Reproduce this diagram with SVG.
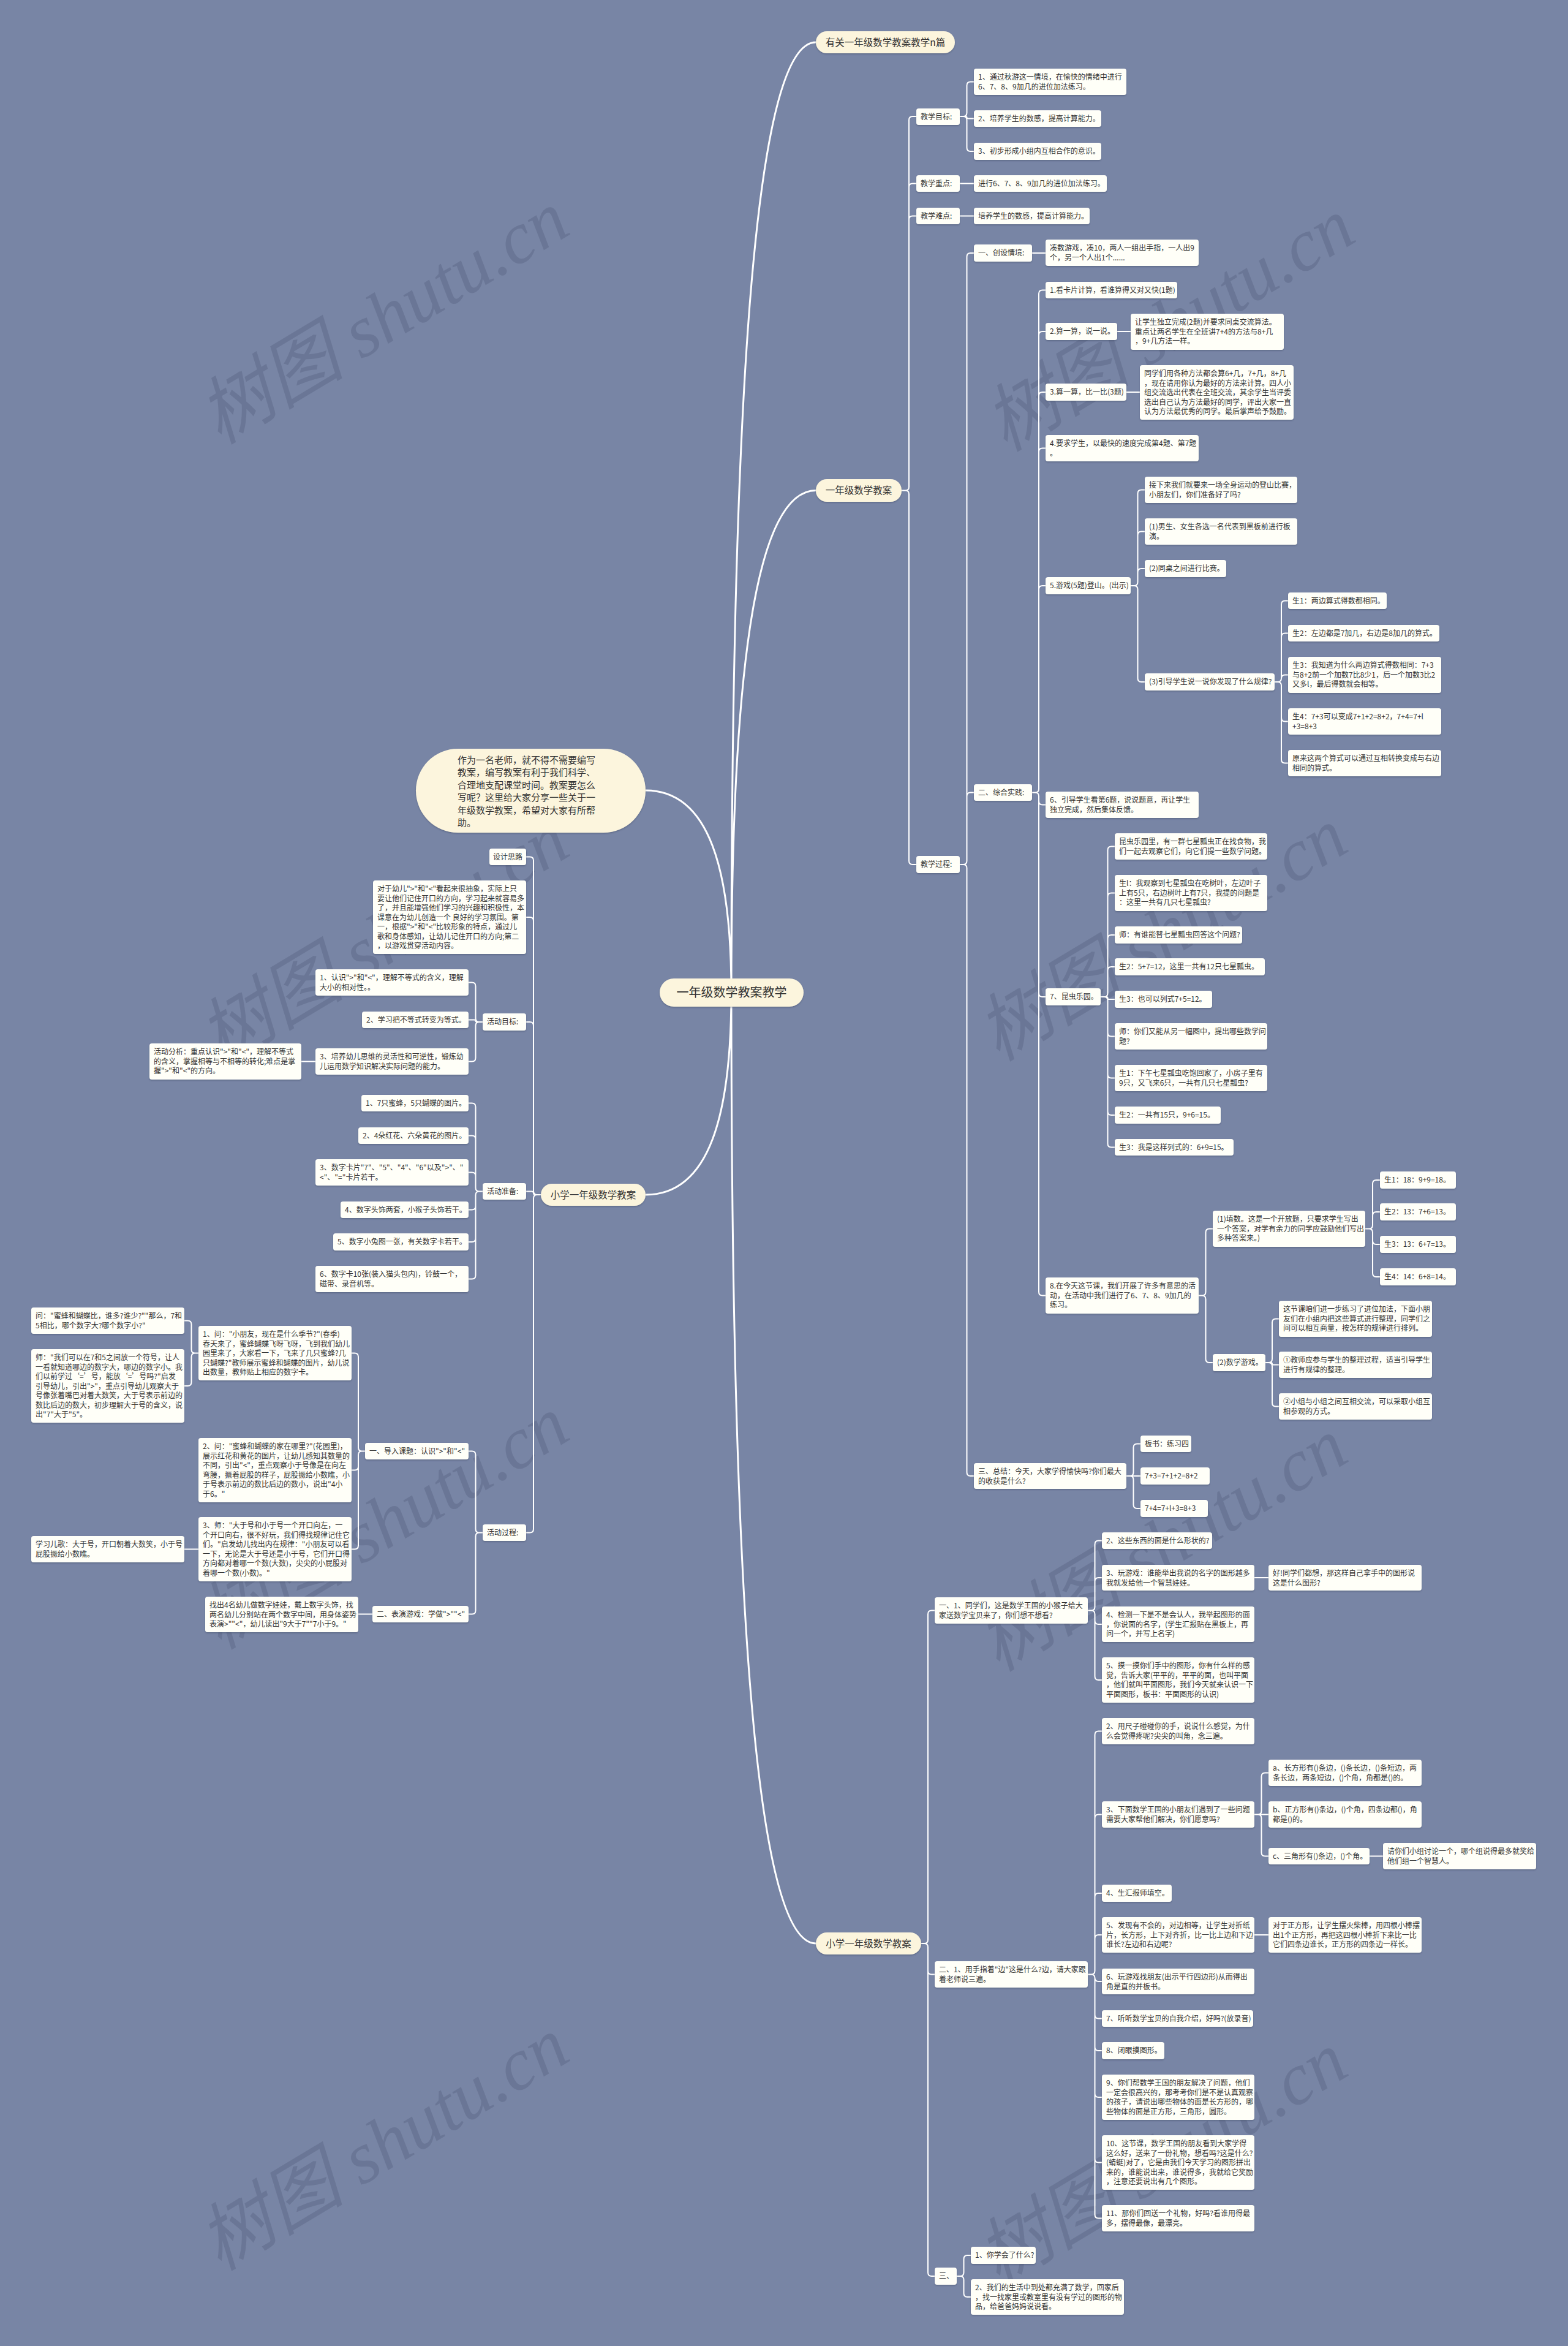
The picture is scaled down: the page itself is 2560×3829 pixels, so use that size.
<svg xmlns="http://www.w3.org/2000/svg" width="2560" height="3829" viewBox="0 0 2560 3829">
<defs>
<filter id="sh" x="-5%" y="-10%" width="110%" height="130%"><feDropShadow dx="0" dy="1.5" stdDeviation="0.8" flood-color="#3d4763" flood-opacity="0.45"/></filter>
<style>
.b{fill:#fffff8;filter:url(#sh)}
.p{fill:#fcf5dd;filter:url(#sh)}
text{font-family:"Noto Sans CJK SC","Liberation Sans",sans-serif;font-size:12px;fill:#333}
.lt{font-size:15.5px}
.rt{font-size:20px}
.it{font-size:15px}
.c{fill:none;stroke:#fff;stroke-width:2}
.cr{fill:none;stroke:#fff;stroke-width:3}
.wm{font-family:"Liberation Serif","Noto Sans CJK SC",serif;font-size:120px;font-style:italic;fill:#4d5773;fill-opacity:.3}
</style>
</defs>
<rect x="0" y="0" width="2560" height="3829" fill="#7885a5"/>
<g id="watermarks">
<text class="wm" text-anchor="middle" transform="translate(647 553) rotate(-31)">树图 shutu.cn</text>
<text class="wm" text-anchor="middle" transform="translate(1930 565) rotate(-31)">树图 shutu.cn</text>
<text class="wm" text-anchor="middle" transform="translate(647 1567) rotate(-31)">树图 shutu.cn</text>
<text class="wm" text-anchor="middle" transform="translate(1918 1560) rotate(-31)">树图 shutu.cn</text>
<text class="wm" text-anchor="middle" transform="translate(647 2520) rotate(-31)">树图 shutu.cn</text>
<text class="wm" text-anchor="middle" transform="translate(1918 2556) rotate(-31)">树图 shutu.cn</text>
<text class="wm" text-anchor="middle" transform="translate(647 3534) rotate(-31)">树图 shutu.cn</text>
<text class="wm" text-anchor="middle" transform="translate(1918 3558) rotate(-31)">树图 shutu.cn</text>
</g>
<g id="connectors">
<path class="cr" d="M1194 1620C1194 689 1228.5 69 1332 69M1194 1620C1194 1128 1228.5 800.5 1332 800.5M1194 1620C1194 2551 1228.5 3172 1332 3172M1194 1620C1194 1422 1159 1290 1054 1290M1194 1620C1194 1818 1159 1950 1054 1950"/>
<path class="c" d="M1472 800.5H1478Q1484 800.5 1484 794.5V196Q1484 190 1490 190H1496M1472 800.5H1478Q1484 800.5 1484 794.5V305.5Q1484 299.5 1490 299.5H1496M1472 800.5H1478Q1484 800.5 1484 794.5V358.5Q1484 352.5 1490 352.5H1496M1472 800.5H1478Q1484 800.5 1484 806.5V1405Q1484 1411 1490 1411H1496"/>
<path class="c" d="M1567 190H1572.5Q1578.5 190 1578.5 184V139.5Q1578.5 133.5 1584.5 133.5H1590M1567 190H1576Q1578.5 190 1578.5 191.75Q1578.5 193.5 1581 193.5H1590M1567 190H1572.5Q1578.5 190 1578.5 196V241Q1578.5 247 1584.5 247H1590M1567 299.5H1590M1567 352.5H1590"/>
<path class="c" d="M1567 1411H1572.5Q1578.5 1411 1578.5 1405V419Q1578.5 413 1584.5 413H1590M1567 1411H1572.5Q1578.5 1411 1578.5 1405V1299.5Q1578.5 1293.5 1584.5 1293.5H1590M1567 1411H1572.5Q1578.5 1411 1578.5 1417V2403Q1578.5 2409 1584.5 2409H1590M1685 413H1707"/>
<path class="c" d="M1685 1293.5H1690Q1696 1293.5 1696 1287.5V479.5Q1696 473.5 1702 473.5H1707M1685 1293.5H1690Q1696 1293.5 1696 1287.5V547Q1696 541 1702 541H1707M1685 1293.5H1690Q1696 1293.5 1696 1287.5V646Q1696 640 1702 640H1707M1685 1293.5H1690Q1696 1293.5 1696 1287.5V737.5Q1696 731.5 1702 731.5H1707M1685 1293.5H1690Q1696 1293.5 1696 1287.5V962Q1696 956 1702 956H1707M1685 1293.5H1690Q1696 1293.5 1696 1299.5V1307.5Q1696 1313.5 1702 1313.5H1707M1685 1293.5H1690Q1696 1293.5 1696 1299.5V1621Q1696 1627 1702 1627H1707M1685 1293.5H1690Q1696 1293.5 1696 1299.5V2108.5Q1696 2114.5 1702 2114.5H1707"/>
<path class="c" d="M1824 541H1846M1839 640H1861"/>
<path class="c" d="M1846 956H1851.5Q1857.5 956 1857.5 950V805.5Q1857.5 799.5 1863.5 799.5H1869M1846 956H1851.5Q1857.5 956 1857.5 950V873.5Q1857.5 867.5 1863.5 867.5H1869M1846 956H1851.5Q1857.5 956 1857.5 950V934Q1857.5 928 1863.5 928H1869M1846 956H1851.5Q1857.5 956 1857.5 962V1107Q1857.5 1113 1863.5 1113H1869"/>
<path class="c" d="M2081 1113H2086Q2092 1113 2092 1107V986.5Q2092 980.5 2098 980.5H2103M2081 1113H2086Q2092 1113 2092 1107V1039.5Q2092 1033.5 2098 1033.5H2103M2081 1113H2086Q2092 1113 2092 1107.25Q2092 1101.5 2098 1101.5H2103M2081 1113H2086Q2092 1113 2092 1119V1171.5Q2092 1177.5 2098 1177.5H2103M2081 1113H2086Q2092 1113 2092 1119V1239.5Q2092 1245.5 2098 1245.5H2103"/>
<path class="c" d="M1797 1627H1802.5Q1808.5 1627 1808.5 1621V1387.5Q1808.5 1381.5 1814.5 1381.5H1820M1797 1627H1802.5Q1808.5 1627 1808.5 1621V1463.5Q1808.5 1457.5 1814.5 1457.5H1820M1797 1627H1802.5Q1808.5 1627 1808.5 1621V1532Q1808.5 1526 1814.5 1526H1820M1797 1627H1802.5Q1808.5 1627 1808.5 1621V1584Q1808.5 1578 1814.5 1578H1820M1797 1627H1806.5Q1808.5 1627 1808.5 1629Q1808.5 1631 1810.5 1631H1820M1797 1627H1802.5Q1808.5 1627 1808.5 1633V1685.5Q1808.5 1691.5 1814.5 1691.5H1820M1797 1627H1802.5Q1808.5 1627 1808.5 1633V1753.5Q1808.5 1759.5 1814.5 1759.5H1820M1797 1627H1802.5Q1808.5 1627 1808.5 1633V1814Q1808.5 1820 1814.5 1820H1820M1797 1627H1802.5Q1808.5 1627 1808.5 1633V1866.5Q1808.5 1872.5 1814.5 1872.5H1820"/>
<path class="c" d="M1957 2114.5H1962.5Q1968.5 2114.5 1968.5 2108.5V2011.5Q1968.5 2005.5 1974.5 2005.5H1980M1957 2114.5H1962.5Q1968.5 2114.5 1968.5 2120.5V2218Q1968.5 2224 1974.5 2224H1980"/>
<path class="c" d="M2229 2005.5H2235Q2241 2005.5 2241 1999.5V1932Q2241 1926 2247 1926H2253M2229 2005.5H2235Q2241 2005.5 2241 1999.5V1984Q2241 1978 2247 1978H2253M2229 2005.5H2235Q2241 2005.5 2241 2011.5V2025Q2241 2031 2247 2031H2253M2229 2005.5H2235Q2241 2005.5 2241 2011.5V2078Q2241 2084 2247 2084H2253"/>
<path class="c" d="M2066 2224H2071Q2077 2224 2077 2218V2158.5Q2077 2152.5 2083 2152.5H2088M2066 2224H2075Q2077 2224 2077 2225.75Q2077 2227.5 2079 2227.5H2088M2066 2224H2071Q2077 2224 2077 2230V2289.5Q2077 2295.5 2083 2295.5H2088"/>
<path class="c" d="M1839 2409H1844.5Q1850.5 2409 1850.5 2403V2362.5Q1850.5 2356.5 1856.5 2356.5H1862M1839 2409H1862M1839 2409H1844.5Q1850.5 2409 1850.5 2415V2456Q1850.5 2462 1856.5 2462H1862"/>
<path class="c" d="M1504 3172H1509Q1515 3172 1515 3166V2634.5Q1515 2628.5 1521 2628.5H1526M1504 3172H1509Q1515 3172 1515 3178V3216.5Q1515 3222.5 1521 3222.5H1526M1504 3172H1509Q1515 3172 1515 3178V3709Q1515 3715 1521 3715H1526"/>
<path class="c" d="M1776 2628.5H1781.5Q1787.5 2628.5 1787.5 2622.5V2520.5Q1787.5 2514.5 1793.5 2514.5H1799M1776 2628.5H1781.5Q1787.5 2628.5 1787.5 2622.5V2581Q1787.5 2575 1793.5 2575H1799M1776 2628.5H1781.5Q1787.5 2628.5 1787.5 2634.5V2645Q1787.5 2651 1793.5 2651H1799M1776 2628.5H1781.5Q1787.5 2628.5 1787.5 2634.5V2736Q1787.5 2742 1793.5 2742H1799M2048 2575H2071"/>
<path class="c" d="M1776 3222.5H1781.5Q1787.5 3222.5 1787.5 3216.5V2831.5Q1787.5 2825.5 1793.5 2825.5H1799M1776 3222.5H1781.5Q1787.5 3222.5 1787.5 3216.5V2967.5Q1787.5 2961.5 1793.5 2961.5H1799M1776 3222.5H1781.5Q1787.5 3222.5 1787.5 3216.5V3096Q1787.5 3090 1793.5 3090H1799M1776 3222.5H1781.5Q1787.5 3222.5 1787.5 3216.5V3164Q1787.5 3158 1793.5 3158H1799M1776 3222.5H1781.5Q1787.5 3222.5 1787.5 3228.25Q1787.5 3234 1793.5 3234H1799M1776 3222.5H1781.5Q1787.5 3222.5 1787.5 3228.5V3288.5Q1787.5 3294.5 1793.5 3294.5H1799M1776 3222.5H1781.5Q1787.5 3222.5 1787.5 3228.5V3341Q1787.5 3347 1793.5 3347H1799M1776 3222.5H1781.5Q1787.5 3222.5 1787.5 3228.5V3417Q1787.5 3423 1793.5 3423H1799M1776 3222.5H1781.5Q1787.5 3222.5 1787.5 3228.5V3523.5Q1787.5 3529.5 1793.5 3529.5H1799M1776 3222.5H1781.5Q1787.5 3222.5 1787.5 3228.5V3614.5Q1787.5 3620.5 1793.5 3620.5H1799"/>
<path class="c" d="M2048 2961.5H2053.5Q2059.5 2961.5 2059.5 2955.5V2899.5Q2059.5 2893.5 2065.5 2893.5H2071M2048 2961.5H2071M2048 2961.5H2053.5Q2059.5 2961.5 2059.5 2967.5V3023.5Q2059.5 3029.5 2065.5 3029.5H2071M2236 3029.5H2258M2048 3158H2071"/>
<path class="c" d="M1562 3715H1567.5Q1573.5 3715 1573.5 3709V3687Q1573.5 3681 1579.5 3681H1585M1562 3715H1567.5Q1573.5 3715 1573.5 3721V3743Q1573.5 3749 1579.5 3749H1585"/>
<path class="c" d="M883 1950H877Q871 1950 871 1944V1404.5Q871 1398.5 865 1398.5H859M883 1950H877Q871 1950 871 1944V1503Q871 1497 865 1497H859M883 1950H877Q871 1950 871 1944V1674Q871 1668 865 1668H859M883 1950H874Q871 1950 871 1947.25Q871 1944.5 868 1944.5H859M883 1950H877Q871 1950 871 1956V2495.5Q871 2501.5 865 2501.5H859"/>
<path class="c" d="M788 1668H782.5Q776.5 1668 776.5 1662V1609.5Q776.5 1603.5 770.5 1603.5H765M788 1668H779Q776.5 1668 776.5 1666.25Q776.5 1664.5 774 1664.5H765M788 1668H782.5Q776.5 1668 776.5 1674V1726.5Q776.5 1732.5 770.5 1732.5H765M515 1732.5H492"/>
<path class="c" d="M788 1944.5H782.5Q776.5 1944.5 776.5 1938.5V1806.5Q776.5 1800.5 770.5 1800.5H765M788 1944.5H782.5Q776.5 1944.5 776.5 1938.5V1859.5Q776.5 1853.5 770.5 1853.5H765M788 1944.5H782.5Q776.5 1944.5 776.5 1938.5V1919.5Q776.5 1913.5 770.5 1913.5H765M788 1944.5H782.5Q776.5 1944.5 776.5 1950.5V1968.5Q776.5 1974.5 770.5 1974.5H765M788 1944.5H782.5Q776.5 1944.5 776.5 1950.5V2021Q776.5 2027 770.5 2027H765M788 1944.5H782.5Q776.5 1944.5 776.5 1950.5V2081.5Q776.5 2087.5 770.5 2087.5H765"/>
<path class="c" d="M788 2501.5H782.5Q776.5 2501.5 776.5 2495.5V2374.5Q776.5 2368.5 770.5 2368.5H765M788 2501.5H782.5Q776.5 2501.5 776.5 2507.5V2628.5Q776.5 2634.5 770.5 2634.5H765"/>
<path class="c" d="M596 2368.5H591Q585 2368.5 585 2362.5V2214.5Q585 2208.5 579 2208.5H574M596 2368.5H591Q585 2368.5 585 2374.5V2393.5Q585 2399.5 579 2399.5H574M596 2368.5H591Q585 2368.5 585 2374.5V2522.5Q585 2528.5 579 2528.5H574"/>
<path class="c" d="M324 2208.5H318.5Q312.5 2208.5 312.5 2202.5V2161.5Q312.5 2155.5 306.5 2155.5H301M324 2208.5H318.5Q312.5 2208.5 312.5 2214.5V2256Q312.5 2262 306.5 2262H301M324 2528.5H301M608 2634.5H585"/>
</g>
<g id="root"><rect class="p" x="1077" y="1597" width="235" height="46" rx="23"/><text class="rt" x="1194.5" y="1627" text-anchor="middle">一年级数学教案教学</text></g>
<g id="n-a"><rect class="p" x="1332" y="51" width="227" height="36" rx="18"/><text class="lt" x="1445.5" y="74.5" text-anchor="middle">有关一年级数学教案教学n篇</text></g>
<g id="n-b"><rect class="p" x="1332" y="782" width="140" height="37" rx="18"/><text class="lt" x="1402" y="806" text-anchor="middle">一年级数学教案</text></g>
<g id="n-c"><rect class="p" x="1332" y="3154" width="172" height="36" rx="18"/><text class="lt" x="1418" y="3177.5" text-anchor="middle">小学一年级数学教案</text></g>
<g id="n-intro"><rect class="p" x="679" y="1222" width="375" height="137" rx="68.5"/><text class="it"><tspan x="747" y="1246">作为一名老师，就不得不需要编写</tspan><tspan x="747" y="1266.4">教案，编写教案有利于我们科学、</tspan><tspan x="747" y="1286.8">合理地支配课堂时间。教案要怎么</tspan><tspan x="747" y="1307.2">写呢？这里给大家分享一些关于一</tspan><tspan x="747" y="1327.6">年级数学教案，希望对大家有所帮</tspan><tspan x="747" y="1348">助。</tspan></text></g>
<g id="n-e"><rect class="p" x="883" y="1932" width="171" height="36" rx="18"/><text class="lt" x="968.5" y="1955.5" text-anchor="middle">小学一年级数学教案</text></g>
<g id="b-mb"><rect class="b" x="1496" y="177" width="71" height="27" rx="4"/><text x="1503" y="195">教学目标:</text></g>
<g id="b-zd"><rect class="b" x="1496" y="286" width="71" height="27" rx="4"/><text x="1503" y="304">教学重点:</text></g>
<g id="b-nd"><rect class="b" x="1496" y="339" width="71" height="27" rx="4"/><text x="1503" y="357">教学难点:</text></g>
<g id="b-gc"><rect class="b" x="1496" y="1397" width="71" height="28" rx="4"/><text x="1503" y="1415">教学过程:</text></g>
<g id="b1"><rect class="b" x="1590" y="112" width="249" height="43" rx="4"/><text><tspan x="1597" y="130">1、通过秋游这一情境，在愉快的情绪中进行</tspan><tspan x="1597" y="145.5">6、7、8、9加几的进位加法练习。</tspan></text></g>
<g id="b2"><rect class="b" x="1590" y="180" width="208" height="27" rx="4"/><text x="1597" y="198">2、培养学生的数感，提高计算能力。</text></g>
<g id="b3"><rect class="b" x="1590" y="233" width="208" height="28" rx="4"/><text x="1597" y="251">3、初步形成小组内互相合作的意识。</text></g>
<g id="c1"><rect class="b" x="1590" y="286" width="217" height="27" rx="4"/><text x="1597" y="304">进行6、7、8、9加几的进位加法练习。</text></g>
<g id="d1"><rect class="b" x="1590" y="339" width="189" height="27" rx="4"/><text x="1597" y="357">培养学生的数感，提高计算能力。</text></g>
<g id="e1"><rect class="b" x="1590" y="399" width="95" height="28" rx="4"/><text x="1597" y="417">一、创设情境:</text></g>
<g id="e1a"><rect class="b" x="1707" y="391" width="250" height="43" rx="4"/><text><tspan x="1714" y="409">凑数游戏，凑10，两人一组出手指，一人出9</tspan><tspan x="1714" y="424.5">个，另一个人出1个......</tspan></text></g>
<g id="e2"><rect class="b" x="1590" y="1280" width="95" height="27" rx="4"/><text x="1597" y="1298">二、综合实践:</text></g>
<g id="e3"><rect class="b" x="1590" y="2388" width="249" height="42" rx="4"/><text><tspan x="1597" y="2406">三、总结：今天，大家学得愉快吗?你们最大</tspan><tspan x="1597" y="2421.5">的收获是什么?</tspan></text></g>
<g id="i1"><rect class="b" x="1707" y="460" width="215" height="27" rx="4"/><text x="1714" y="478">1.看卡片计算，看谁算得又对又快(1题)</text></g>
<g id="i2"><rect class="b" x="1707" y="527" width="117" height="28" rx="4"/><text x="1714" y="545">2.算一算，说一说。</text></g>
<g id="i2a"><rect class="b" x="1846" y="512" width="250" height="59" rx="4"/><text><tspan x="1853" y="530">让学生独立完成(2题)并要求同桌交流算法。</tspan><tspan x="1853" y="545.5">重点让两名学生在全班讲7+4的方法与8+几</tspan><tspan x="1853" y="561">，9+几方法一样。</tspan></text></g>
<g id="i3"><rect class="b" x="1707" y="626" width="132" height="28" rx="4"/><text x="1714" y="644">3.算一算，比一比(3题)</text></g>
<g id="i3a"><rect class="b" x="1861" y="596" width="251" height="89" rx="4"/><text><tspan x="1868" y="614">同学们用各种方法都会算6+几，7+几，8+几</tspan><tspan x="1868" y="629.5">，现在请用你认为最好的方法来计算。四人小</tspan><tspan x="1868" y="645">组交流选出代表在全班交流，其余学生当评委</tspan><tspan x="1868" y="660.5">选出自己认为方法最好的同学，评出大家一直</tspan><tspan x="1868" y="676">认为方法最优秀的同学。最后掌声给予鼓励。</tspan></text></g>
<g id="i4"><rect class="b" x="1707" y="710" width="250" height="43" rx="4"/><text><tspan x="1714" y="728">4.要求学生，以最快的速度完成第4题、第7题</tspan><tspan x="1714" y="743.5">。</tspan></text></g>
<g id="i5"><rect class="b" x="1707" y="942" width="139" height="28" rx="4"/><text x="1714" y="960">5.游戏(5题)登山。(出示)</text></g>
<g id="i5a"><rect class="b" x="1869" y="778" width="249" height="43" rx="4"/><text><tspan x="1876" y="796">接下来我们就要来一场全身运动的登山比赛，</tspan><tspan x="1876" y="811.5">小朋友们，你们准备好了吗?</tspan></text></g>
<g id="i5b"><rect class="b" x="1869" y="846" width="249" height="43" rx="4"/><text><tspan x="1876" y="864">(1)男生、女生各选一名代表到黑板前进行板</tspan><tspan x="1876" y="879.5">演。</tspan></text></g>
<g id="i5c"><rect class="b" x="1869" y="914" width="133" height="28" rx="4"/><text x="1876" y="932">(2)同桌之间进行比赛。</text></g>
<g id="i5d"><rect class="b" x="1869" y="1099" width="212" height="28" rx="4"/><text x="1876" y="1117">(3)引导学生说一说你发现了什么规律?</text></g>
<g id="s1"><rect class="b" x="2103" y="967" width="161" height="27" rx="4"/><text x="2110" y="985">生1：两边算式得数都相同。</text></g>
<g id="s2"><rect class="b" x="2103" y="1020" width="247" height="27" rx="4"/><text x="2110" y="1038">生2：左边都是7加几，右边是8加几的算式。</text></g>
<g id="s3"><rect class="b" x="2103" y="1072" width="250" height="59" rx="4"/><text><tspan x="2110" y="1090">生3：我知道为什么两边算式得数相同：7+3</tspan><tspan x="2110" y="1105.5">与8+2前一个加数7比8少1，后一个加数3比2</tspan><tspan x="2110" y="1121">又多l，最后得数就会相等。</tspan></text></g>
<g id="s4"><rect class="b" x="2103" y="1156" width="250" height="43" rx="4"/><text><tspan x="2110" y="1174">生4：7+3可以变成7+1+2=8+2，7+4=7+l</tspan><tspan x="2110" y="1189.5">+3=8+3</tspan></text></g>
<g id="s5"><rect class="b" x="2103" y="1224" width="250" height="43" rx="4"/><text><tspan x="2110" y="1242">原来这两个算式可以通过互相转换变成与右边</tspan><tspan x="2110" y="1257.5">相同的算式。</tspan></text></g>
<g id="i6"><rect class="b" x="1707" y="1292" width="250" height="43" rx="4"/><text><tspan x="1714" y="1310">6、引导学生看第6题，说说题意，再让学生</tspan><tspan x="1714" y="1325.5">独立完成，然后集体反馈。</tspan></text></g>
<g id="i7"><rect class="b" x="1707" y="1613" width="90" height="28" rx="4"/><text x="1714" y="1631">7、昆虫乐园。</text></g>
<g id="k1"><rect class="b" x="1820" y="1360" width="249" height="43" rx="4"/><text><tspan x="1827" y="1378">昆虫乐园里，有一群七星瓢虫正在找食物，我</tspan><tspan x="1827" y="1393.5">们一起去观察它们，向它们提一些数学问题。</tspan></text></g>
<g id="k2"><rect class="b" x="1820" y="1428" width="249" height="59" rx="4"/><text><tspan x="1827" y="1446">生l：我观察到七星瓢虫在吃树叶，左边叶子</tspan><tspan x="1827" y="1461.5">上有5只，右边树叶上有7只，我提的问题是</tspan><tspan x="1827" y="1477">：这里一共有几只七星瓢虫?</tspan></text></g>
<g id="k3"><rect class="b" x="1820" y="1512" width="208" height="28" rx="4"/><text x="1827" y="1530">师：有谁能替七星瓢虫回答这个问题?</text></g>
<g id="k4"><rect class="b" x="1820" y="1564" width="245" height="28" rx="4"/><text x="1827" y="1582">生2：5+7=12，这里一共有12只七星瓢虫。</text></g>
<g id="k5"><rect class="b" x="1820" y="1617" width="159" height="28" rx="4"/><text x="1827" y="1635">生3：也可以列式7+5=12。</text></g>
<g id="k6"><rect class="b" x="1820" y="1670" width="249" height="43" rx="4"/><text><tspan x="1827" y="1688">师：你们又能从另一幅图中，提出哪些数学问</tspan><tspan x="1827" y="1703.5">题?</tspan></text></g>
<g id="k7"><rect class="b" x="1820" y="1738" width="249" height="43" rx="4"/><text><tspan x="1827" y="1756">生1：下午七星瓢虫吃饱回家了，小房子里有</tspan><tspan x="1827" y="1771.5">9只，又飞来6只，一共有几只七星瓢虫?</tspan></text></g>
<g id="k8"><rect class="b" x="1820" y="1806" width="173" height="28" rx="4"/><text x="1827" y="1824">生2：一共有15只，9+6=15。</text></g>
<g id="k9"><rect class="b" x="1820" y="1859" width="194" height="27" rx="4"/><text x="1827" y="1877">生3：我是这样列式的：6+9=15。</text></g>
<g id="i8"><rect class="b" x="1707" y="2085" width="250" height="59" rx="4"/><text><tspan x="1714" y="2103">8.在今天这节课，我们开展了许多有意思的活</tspan><tspan x="1714" y="2118.5">动，在活动中我们进行了6、7、8、9加几的</tspan><tspan x="1714" y="2134">练习。</tspan></text></g>
<g id="f1"><rect class="b" x="1980" y="1976" width="249" height="59" rx="4"/><text><tspan x="1987" y="1994">(1)填数。这是一个开放题，只要求学生写出</tspan><tspan x="1987" y="2009.5">一个答案，对学有余力的同学应鼓励他们写出</tspan><tspan x="1987" y="2025">多种答案来。)</tspan></text></g>
<g id="f1a"><rect class="b" x="2253" y="1912" width="124" height="28" rx="4"/><text x="2260" y="1930">生1：18：9+9=18。</text></g>
<g id="f1b"><rect class="b" x="2253" y="1964" width="124" height="28" rx="4"/><text x="2260" y="1982">生2：13：7+6=13。</text></g>
<g id="f1c"><rect class="b" x="2253" y="2017" width="124" height="28" rx="4"/><text x="2260" y="2035">生3：13：6+7=13。</text></g>
<g id="f1d"><rect class="b" x="2253" y="2070" width="124" height="28" rx="4"/><text x="2260" y="2088">生4：14：6+8=14。</text></g>
<g id="f2"><rect class="b" x="1980" y="2210" width="86" height="28" rx="4"/><text x="1987" y="2228">(2)数学游戏。</text></g>
<g id="f2a"><rect class="b" x="2088" y="2123" width="250" height="59" rx="4"/><text><tspan x="2095" y="2141">这节课咱们进一步练习了进位加法，下面小朋</tspan><tspan x="2095" y="2156.5">友们在小组内把这些算式进行整理，同学们之</tspan><tspan x="2095" y="2172">间可以相互商量，按怎样的规律进行排列。</tspan></text></g>
<g id="f2b"><rect class="b" x="2088" y="2206" width="250" height="43" rx="4"/><text><tspan x="2095" y="2224">①教师应参与学生的整理过程，适当引导学生</tspan><tspan x="2095" y="2239.5">进行有规律的整理。</tspan></text></g>
<g id="f2c"><rect class="b" x="2088" y="2274" width="250" height="43" rx="4"/><text><tspan x="2095" y="2292">②小组与小组之间互相交流，可以采取小组互</tspan><tspan x="2095" y="2307.5">相参观的方式。</tspan></text></g>
<g id="e3a"><rect class="b" x="1862" y="2343" width="83" height="27" rx="4"/><text x="1869" y="2361">板书：练习四</text></g>
<g id="e3b"><rect class="b" x="1862" y="2395" width="113" height="28" rx="4"/><text x="1869" y="2413">7+3=7+1+2=8+2</text></g>
<g id="e3c"><rect class="b" x="1862" y="2448" width="110" height="28" rx="4"/><text x="1869" y="2466">7+4=7+l+3=8+3</text></g>
<g id="g1"><rect class="b" x="1526" y="2607" width="250" height="43" rx="4"/><text><tspan x="1533" y="2625">一、1、同学们，这是数学王国的小猴子给大</tspan><tspan x="1533" y="2640.5">家送数学宝贝来了，你们想不想看?</tspan></text></g>
<g id="h1"><rect class="b" x="1799" y="2501" width="180" height="27" rx="4"/><text x="1806" y="2519">2、这些东西的面是什么形状的?</text></g>
<g id="h2"><rect class="b" x="1799" y="2554" width="249" height="42" rx="4"/><text><tspan x="1806" y="2572">3、玩游戏：谁能举出我说的名字的图形越多</tspan><tspan x="1806" y="2587.5">我就发给他一个智慧娃娃。</tspan></text></g>
<g id="h2a"><rect class="b" x="2071" y="2554" width="250" height="42" rx="4"/><text><tspan x="2078" y="2572">好!同学们都想，那这样自己拿手中的图形说</tspan><tspan x="2078" y="2587.5">这是什么图形?</tspan></text></g>
<g id="h3"><rect class="b" x="1799" y="2622" width="249" height="58" rx="4"/><text><tspan x="1806" y="2640">4、检测一下是不是会认人，我举起图形的面</tspan><tspan x="1806" y="2655.5">，你说面的名字，(学生汇报贴在黑板上，再</tspan><tspan x="1806" y="2671">问一个，并写上名字)</tspan></text></g>
<g id="h4"><rect class="b" x="1799" y="2705" width="249" height="74" rx="4"/><text><tspan x="1806" y="2723">5、摸一摸你们手中的图形，你有什么样的感</tspan><tspan x="1806" y="2738.5">觉，告诉大家(平平的，平平的面，也叫平面</tspan><tspan x="1806" y="2754">，他们就叫平面图形，我们今天就来认识一下</tspan><tspan x="1806" y="2769.5">平面图形，板书：平面图形的认识)</tspan></text></g>
<g id="g2"><rect class="b" x="1526" y="3201" width="250" height="43" rx="4"/><text><tspan x="1533" y="3219">二、1、用手指着"边"这是什么?边，请大家跟</tspan><tspan x="1533" y="3234.5">着老师说三遍。</tspan></text></g>
<g id="j2"><rect class="b" x="1799" y="2804" width="249" height="43" rx="4"/><text><tspan x="1806" y="2822">2、用尺子碰碰你的手，说说什么感觉，为什</tspan><tspan x="1806" y="2837.5">么会觉得疼呢?尖尖的叫角，念三遍。</tspan></text></g>
<g id="j3"><rect class="b" x="1799" y="2940" width="249" height="43" rx="4"/><text><tspan x="1806" y="2958">3、下面数学王国的小朋友们遇到了一些问题</tspan><tspan x="1806" y="2973.5">需要大家帮他们解决，你们愿意吗?</tspan></text></g>
<g id="ja"><rect class="b" x="2071" y="2872" width="250" height="43" rx="4"/><text><tspan x="2078" y="2890">a、长方形有()条边，()条长边，()条短边，两</tspan><tspan x="2078" y="2905.5">条长边，两条短边，()个角，角都是()的。</tspan></text></g>
<g id="jb"><rect class="b" x="2071" y="2940" width="250" height="43" rx="4"/><text><tspan x="2078" y="2958">b、正方形有()条边，()个角，四条边都()，角</tspan><tspan x="2078" y="2973.5">都是()的。</tspan></text></g>
<g id="jc"><rect class="b" x="2071" y="3016" width="165" height="27" rx="4"/><text x="2078" y="3034">c、三角形有()条边，()个角。</text></g>
<g id="jc1"><rect class="b" x="2258" y="3008" width="250" height="43" rx="4"/><text><tspan x="2265" y="3026">请你们小组讨论一个，哪个组说得最多就奖给</tspan><tspan x="2265" y="3041.5">他们组一个智慧人。</tspan></text></g>
<g id="j4"><rect class="b" x="1799" y="3076" width="114" height="28" rx="4"/><text x="1806" y="3094">4、生汇报师填空。</text></g>
<g id="j5"><rect class="b" x="1799" y="3129" width="249" height="58" rx="4"/><text><tspan x="1806" y="3147">5、发现有不会的，对边相等，让学生对折纸</tspan><tspan x="1806" y="3162.5">片，长方形，上下对齐折，比一比上边和下边</tspan><tspan x="1806" y="3178">谁长?左边和右边呢?</tspan></text></g>
<g id="j5a"><rect class="b" x="2071" y="3129" width="250" height="58" rx="4"/><text><tspan x="2078" y="3147">对于正方形，让学生摆火柴棒，用四根小棒摆</tspan><tspan x="2078" y="3162.5">出1个正方形，再把这四根小棒折下来比一比</tspan><tspan x="2078" y="3178">它们四条边谁长，正方形的四条边一样长。</tspan></text></g>
<g id="j6"><rect class="b" x="1799" y="3213" width="249" height="42" rx="4"/><text><tspan x="1806" y="3231">6、玩游戏找朋友(出示平行四边形)从而得出</tspan><tspan x="1806" y="3246.5">角是直的并板书。</tspan></text></g>
<g id="j7"><rect class="b" x="1799" y="3281" width="247" height="27" rx="4"/><text x="1806" y="3299">7、听听数学宝贝的自我介绍，好吗?(放录音)</text></g>
<g id="j8"><rect class="b" x="1799" y="3333" width="102" height="28" rx="4"/><text x="1806" y="3351">8、闭眼摸图形。</text></g>
<g id="j9"><rect class="b" x="1799" y="3386" width="249" height="74" rx="4"/><text><tspan x="1806" y="3404">9、你们帮数学王国的朋友解决了问题，他们</tspan><tspan x="1806" y="3419.5">一定会很高兴的，那考考你们是不是认真观察</tspan><tspan x="1806" y="3435">的孩子，请说出哪些物体的面是长方形的，哪</tspan><tspan x="1806" y="3450.5">些物体的面是正方形，三角形，圆形。</tspan></text></g>
<g id="j10"><rect class="b" x="1799" y="3485" width="249" height="89" rx="4"/><text><tspan x="1806" y="3503">10、这节课，数学王国的朋友看到大家学得</tspan><tspan x="1806" y="3518.5">这么好，送来了一份礼物，想看吗?这是什么?</tspan><tspan x="1806" y="3534">(蜻蜓)对了，它是由我们今天学习的图形拼出</tspan><tspan x="1806" y="3549.5">来的，谁能说出来，谁说得多，我就给它奖励</tspan><tspan x="1806" y="3565">，注意还要说出有几个图形。</tspan></text></g>
<g id="j11"><rect class="b" x="1799" y="3599" width="249" height="43" rx="4"/><text><tspan x="1806" y="3617">11、那你们回送一个礼物，好吗?看谁用得最</tspan><tspan x="1806" y="3632.5">多，摆得最像，最漂亮。</tspan></text></g>
<g id="g3"><rect class="b" x="1526" y="3701" width="36" height="28" rx="4"/><text x="1533" y="3719">三、</text></g>
<g id="g3a"><rect class="b" x="1585" y="3667" width="106" height="28" rx="4"/><text x="1592" y="3685">1、你学会了什么?</text></g>
<g id="g3b"><rect class="b" x="1585" y="3720" width="250" height="58" rx="4"/><text><tspan x="1592" y="3738">2、我们的生活中到处都充满了数学，回家后</tspan><tspan x="1592" y="3753.5">，找一找家里或教室里有没有学过的图形的物</tspan><tspan x="1592" y="3769">品，给爸爸妈妈说说看。</tspan></text></g>
<g id="l-sj"><rect class="b" x="799" y="1385" width="60" height="27" rx="4"/><text x="805" y="1403">设计思路</text></g>
<g id="l-dy"><rect class="b" x="609" y="1437" width="250" height="120" rx="4"/><text><tspan x="616" y="1455">对于幼儿"&gt;"和"&lt;"看起来很抽象，实际上只</tspan><tspan x="616" y="1470.5">要让他们记住开口的方向，学习起来就容易多</tspan><tspan x="616" y="1486">了，并且能增强他们学习的兴趣和积极性，本</tspan><tspan x="616" y="1501.5">课意在为幼儿创造一个 良好的学习氛围。第</tspan><tspan x="616" y="1517">一，根据"&gt;"和"&lt;"比较形象的特点，通过儿</tspan><tspan x="616" y="1532.5">歌和身体感知，让幼儿记住开口的方向;第二</tspan><tspan x="616" y="1548">，以游戏贯穿活动内容。</tspan></text></g>
<g id="l-mb"><rect class="b" x="788" y="1654" width="71" height="28" rx="4"/><text x="795" y="1672">活动目标:</text></g>
<g id="m1"><rect class="b" x="515" y="1582" width="250" height="43" rx="4"/><text><tspan x="522" y="1600">1、认识"&gt;"和"&lt;"，理解不等式的含义，理解</tspan><tspan x="522" y="1615.5">大小的相对性。。</tspan></text></g>
<g id="m2"><rect class="b" x="591" y="1651" width="174" height="27" rx="4"/><text x="598" y="1669">2、学习把不等式转变为等式。</text></g>
<g id="m3"><rect class="b" x="515" y="1711" width="250" height="43" rx="4"/><text><tspan x="522" y="1729">3、培养幼儿思维的灵活性和可逆性，锻炼幼</tspan><tspan x="522" y="1744.5">儿运用数学知识解决实际问题的能力。</tspan></text></g>
<g id="m3a"><rect class="b" x="244" y="1703" width="248" height="59" rx="4"/><text><tspan x="251" y="1721">活动分析：重点认识"&gt;"和"&lt;"，理解不等式</tspan><tspan x="251" y="1736.5">的含义，掌握相等与不相等的转化;难点是掌</tspan><tspan x="251" y="1752">握"&gt;"和"&lt;"的方向。</tspan></text></g>
<g id="l-zb"><rect class="b" x="788" y="1931" width="71" height="27" rx="4"/><text x="795" y="1949">活动准备:</text></g>
<g id="p1"><rect class="b" x="590" y="1787" width="175" height="27" rx="4"/><text x="597" y="1805">1、7只蜜蜂，5只蝴蝶的图片。</text></g>
<g id="p2"><rect class="b" x="585" y="1840" width="180" height="27" rx="4"/><text x="592" y="1858">2、4朵红花、六朵黄花的图片。</text></g>
<g id="p3"><rect class="b" x="515" y="1892" width="250" height="43" rx="4"/><text><tspan x="522" y="1910">3、数字卡片"7"、"5"、"4"、"6"以及"&gt;"、"</tspan><tspan x="522" y="1925.5">&lt;"、"="卡片若干。</tspan></text></g>
<g id="p4"><rect class="b" x="556" y="1961" width="209" height="27" rx="4"/><text x="563" y="1979">4、数字头饰两套，小猴子头饰若干。</text></g>
<g id="p5"><rect class="b" x="544" y="2013" width="221" height="28" rx="4"/><text x="551" y="2031">5、数字小兔图一张，有关数字卡若干。</text></g>
<g id="p6"><rect class="b" x="515" y="2066" width="250" height="43" rx="4"/><text><tspan x="522" y="2084">6、数字卡10张(装入猫头包内)，铃鼓一个，</tspan><tspan x="522" y="2099.5">磁带、录音机等。</tspan></text></g>
<g id="l-gc"><rect class="b" x="788" y="2488" width="71" height="27" rx="4"/><text x="795" y="2506">活动过程:</text></g>
<g id="q1"><rect class="b" x="596" y="2355" width="169" height="27" rx="4"/><text x="603" y="2373">一、导入课题：认识"&gt;"和"&lt;"</text></g>
<g id="q2"><rect class="b" x="608" y="2621" width="157" height="27" rx="4"/><text x="615" y="2639">二、表演游戏：学做"&gt;""&lt;"</text></g>
<g id="r1"><rect class="b" x="324" y="2164" width="250" height="89" rx="4"/><text><tspan x="331" y="2182">1、问："小朋友，现在是什么季节?"(春季)</tspan><tspan x="331" y="2197.5">春天来了，蜜蜂蝴蝶飞呀飞呀，飞到我们幼儿</tspan><tspan x="331" y="2213">园里来了，大家看一下，飞来了几只蜜蜂?几</tspan><tspan x="331" y="2228.5">只蝴蝶?"教师展示蜜蜂和蝴蝶的图片，幼儿说</tspan><tspan x="331" y="2244">出数量，教师贴上相应的数字卡。</tspan></text></g>
<g id="t1"><rect class="b" x="51" y="2134" width="250" height="43" rx="4"/><text><tspan x="58" y="2152">问："蜜蜂和蝴蝶比，谁多?谁少?""那么，7和</tspan><tspan x="58" y="2167.5">5相比，哪个数字大?哪个数字小?"</tspan></text></g>
<g id="t2"><rect class="b" x="51" y="2202" width="250" height="120" rx="4"/><text><tspan x="58" y="2220">师："我们可以在7和5之间放一个符号，让人</tspan><tspan x="58" y="2235.5">一看就知道哪边的数字大，哪边的数字小。我</tspan><tspan x="58" y="2251">们以前学过‘=’号，能放‘=’号吗?"启发</tspan><tspan x="58" y="2266.5">引导幼儿，引出"&gt;"，重点引导幼儿观察大于</tspan><tspan x="58" y="2282">号像张着嘴巴对着大数笑，大于号表示前边的</tspan><tspan x="58" y="2297.5">数比后边的数大，初步理解大于号的含义，说</tspan><tspan x="58" y="2313">出"7"大于"5"。</tspan></text></g>
<g id="r2"><rect class="b" x="324" y="2347" width="250" height="105" rx="4"/><text><tspan x="331" y="2365">2、问："蜜蜂和蝴蝶的家在哪里?"(花园里)，</tspan><tspan x="331" y="2380.5">展示红花和黄花的图片，让幼儿感知其数量的</tspan><tspan x="331" y="2396">不同，引出"&lt;"，重点观察小于号像是在向左</tspan><tspan x="331" y="2411.5">弯腰，撅着屁股的样子，屁股撅给小数瞧，小</tspan><tspan x="331" y="2427">于号表示前边的数比后边的数小，说出"4小</tspan><tspan x="331" y="2442.5">于6。"</tspan></text></g>
<g id="r3"><rect class="b" x="324" y="2476" width="250" height="105" rx="4"/><text><tspan x="331" y="2494">3、师："大于号和小于号一个开口向左，一</tspan><tspan x="331" y="2509.5">个开口向右，很不好玩，我们得找规律记住它</tspan><tspan x="331" y="2525">们。"启发幼儿找出内在规律："小朋友可以看</tspan><tspan x="331" y="2540.5">一下，无论是大于号还是小于号，它们开口得</tspan><tspan x="331" y="2556">方向都对着哪一个数(大数)，尖尖的小屁股对</tspan><tspan x="331" y="2571.5">着哪一个数(小数)。"</tspan></text></g>
<g id="t3"><rect class="b" x="51" y="2507" width="250" height="43" rx="4"/><text><tspan x="58" y="2525">学习儿歌：大于号，开口朝着大数笑，小于号</tspan><tspan x="58" y="2540.5">屁股撅给小数瞧。</tspan></text></g>
<g id="u1"><rect class="b" x="335" y="2606" width="250" height="58" rx="4"/><text><tspan x="342" y="2624">找出4名幼儿做数字娃娃，戴上数字头饰，找</tspan><tspan x="342" y="2639.5">两名幼儿分别站在两个数字中间，用身体姿势</tspan><tspan x="342" y="2655">表演&gt;""&lt;"，幼儿读出"9大于7""7小于9。"</tspan></text></g>
</svg>
